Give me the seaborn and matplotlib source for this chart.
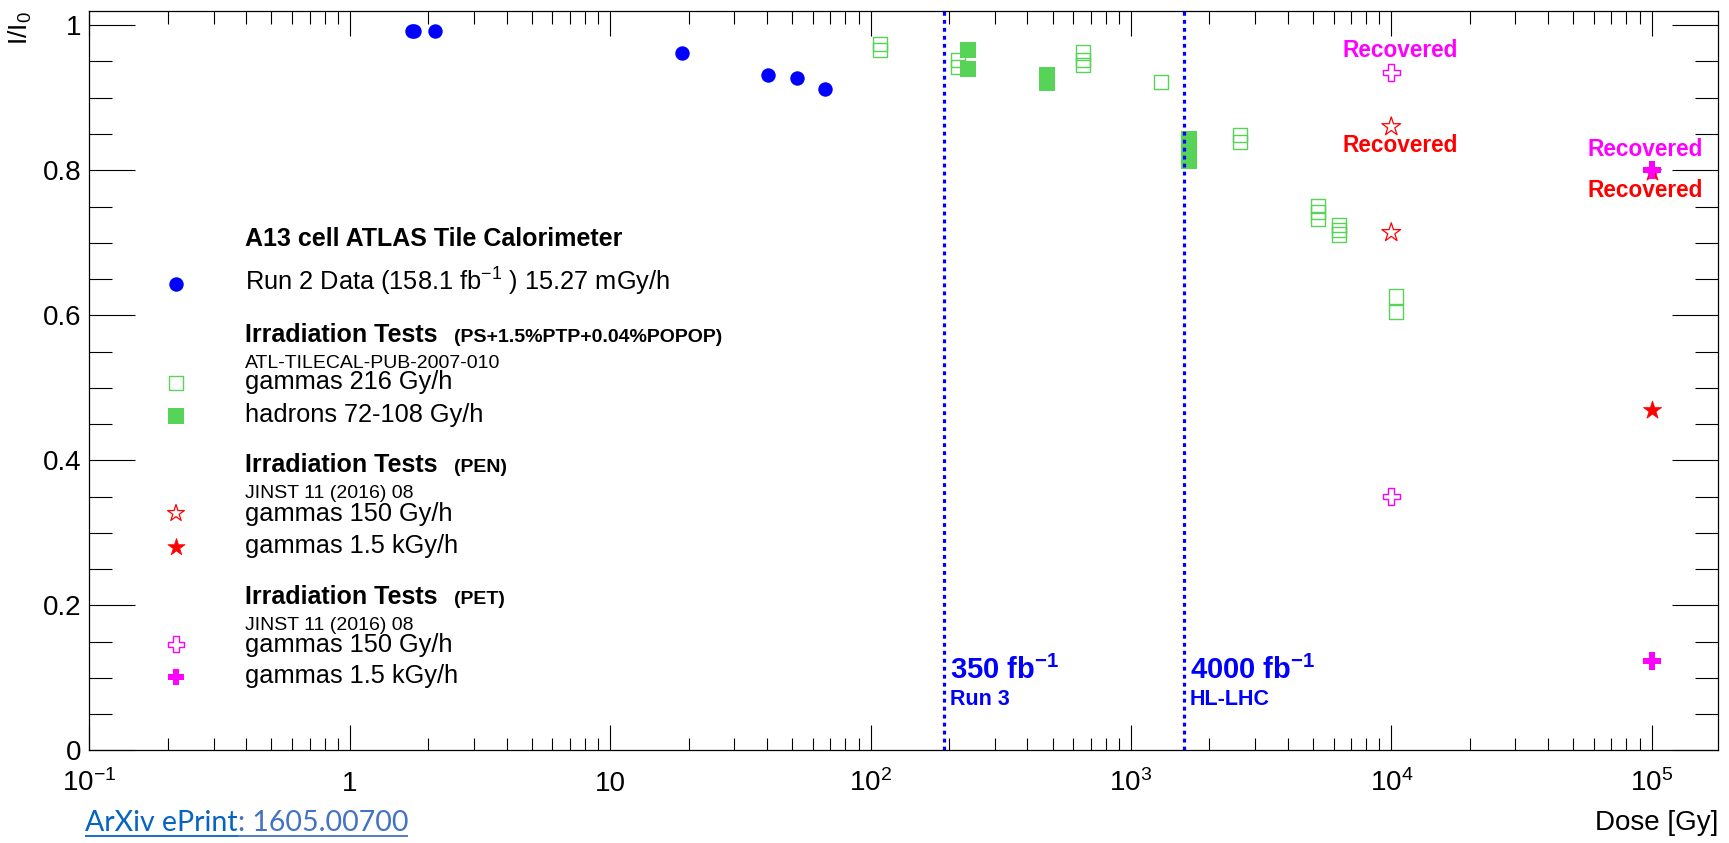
import numpy as np
import matplotlib
matplotlib.use("Agg")
import matplotlib.pyplot as plt
import seaborn as sns
from matplotlib.ticker import FixedLocator, NullFormatter, MultipleLocator, LogLocator

# ---------------------------------------------------------------- data
run2_dose = [1.73, 1.77, 2.12, 18.9, 40.2, 52.2, 66.8]
run2_ratio = [0.992, 0.992, 0.992, 0.961, 0.932, 0.927, 0.912]

gam216_dose = [108.7, 108.7, 217, 217, 653, 653, 653, 1305, 2621, 2621,
               5236, 5236, 5236, 6281, 6281, 6281, 10450, 10450]
gam216_ratio = [0.9745, 0.9655, 0.952, 0.9425, 0.9624, 0.9517, 0.9453, 0.922,
                0.8487, 0.8394, 0.7502, 0.7420, 0.7333, 0.7250, 0.7180, 0.7115,
                0.6258, 0.6044]

had_dose = [237.5, 237.5, 474, 474, 1675, 1675, 1675]
had_ratio = [0.9662, 0.9397, 0.932, 0.920, 0.8436, 0.8284, 0.8123]

pen150_dose = [1e4, 1e4]
pen150_ratio = [0.860, 0.714]
pen1500_dose = [1e5, 1e5]
pen1500_ratio = [0.469, 0.798]
pet150_dose = [1e4, 1e4]
pet150_ratio = [0.935, 0.350]
pet1500_dose = [1e5, 1e5]
pet1500_ratio = [0.800, 0.123]

lumi_dose = [192, 1600]
lumi_labels = ["350 fb$^{\\mathbf{-1}}$", "4000 fb$^{\\mathbf{-1}}$"]
lumi_periods = ["Run 3", "HL-LHC"]

recovered_x = [1.08e4, 1.08e4, 9.48e4, 9.48e4]
recovered_y = [0.9555, 0.8254, 0.8194, 0.7625]
recovered_color = ["#FF00FF", "#FF0000", "#FF00FF", "#FF0000"]

x_ticks = [0.1, 1, 10, 100, 1e3, 1e4, 1e5]
x_ticklabels = ["$10^{-1}$", "1", "10", "$10^{2}$", "$10^{3}$", "$10^{4}$", "$10^{5}$"]
y_ticks = [0, 0.2, 0.4, 0.6, 0.8, 1.0]
y_ticklabels = ["0", "0.2", "0.4", "0.6", "0.8", "1"]

BLUE = "#0000FF"
GREEN = "#57D357"
RED = "#FF0000"
MAGENTA = "#FF00FF"

# ---------------------------------------------------------------- style
sns.set_theme(style="white")
plt.rcParams.update({
    "font.family": ["Liberation Sans", "DejaVu Sans"],
    "mathtext.fontset": "custom",
    "mathtext.rm": "Liberation Sans",
    "mathtext.it": "Liberation Sans:italic",
    "mathtext.bf": "Liberation Sans:bold",
    "axes.edgecolor": "black",
    "axes.linewidth": 0.9,
    "xtick.color": "black",
    "ytick.color": "black",
    "axes.labelcolor": "black",
    "text.color": "black",
})

fig = plt.figure(figsize=(17.29, 8.43), dpi=100)
ax = fig.add_axes([0.05176, 0.10973, 0.94204, 0.87758])

# ---------------------------------------------------------------- markers
sns.scatterplot(x=gam216_dose, y=gam216_ratio, ax=ax, marker="s", s=105,
                facecolors="none", edgecolor=GREEN, linewidth=1.0, zorder=4)
sns.scatterplot(x=had_dose, y=had_ratio, ax=ax, marker="s", s=118,
                color=GREEN, edgecolor=GREEN, linewidth=0, zorder=4)
sns.scatterplot(x=run2_dose, y=run2_ratio, ax=ax, marker="o", s=108,
                color=BLUE, edgecolor=BLUE, linewidth=0, zorder=5)
sns.scatterplot(x=pen150_dose, y=pen150_ratio, ax=ax, marker="*", s=200,
                facecolors="none", edgecolor=RED, linewidth=0.9, zorder=5)
sns.scatterplot(x=pet150_dose, y=pet150_ratio, ax=ax, marker="P", s=150,
                facecolors="none", edgecolor=MAGENTA, linewidth=1.0, zorder=5)
sns.scatterplot(x=pen1500_dose, y=pen1500_ratio, ax=ax, marker="*", s=190,
                color=RED, edgecolor=RED, linewidth=0.5, zorder=5)
sns.scatterplot(x=pet1500_dose, y=pet1500_ratio, ax=ax, marker="P", s=150,
                color=MAGENTA, edgecolor=MAGENTA, linewidth=0, zorder=6)

for xr, yr, cr in zip(recovered_x, recovered_y, recovered_color):
    ax.text(xr, yr, "Recovered", color=cr, fontsize=16.3, fontweight="bold",
            ha="center", va="baseline", zorder=7)

# luminosity milestones
for d, lab, per in zip(lumi_dose, lumi_labels, lumi_periods):
    ax.axvline(d, color=BLUE, lw=2.3, ls=(0, (1.2, 1.3)), zorder=6)
    ax.annotate(lab, xy=(d, 0.0986), xytext=(6, 0), textcoords="offset pixels",
                color=BLUE, fontsize=21, fontweight="bold", ha="left", va="baseline")
    ax.annotate(per, xy=(d, 0.0627), xytext=(6, 0), textcoords="offset pixels",
                color=BLUE, fontsize=15.5, fontweight="bold", ha="left", va="baseline")

# ---------------------------------------------------------------- axes
ax.set_xscale("log")
ax.set_xlim(0.1, 1.803e5)
ax.set_ylim(0, 1.02)

ax.xaxis.set_major_locator(FixedLocator(x_ticks))
ax.set_xticklabels(x_ticklabels)
ax.xaxis.set_minor_locator(LogLocator(base=10, subs=np.arange(2, 10), numticks=30))
ax.xaxis.set_minor_formatter(NullFormatter())
ax.set_yticks(y_ticks)
ax.set_yticklabels(y_ticklabels)
ax.yaxis.set_minor_locator(MultipleLocator(0.05))

ax.tick_params(axis="x", which="major", direction="in", length=18, width=0.8,
               top=True, bottom=True, labelsize=20, pad=29)
ax.tick_params(axis="x", which="minor", direction="in", length=9, width=0.8,
               top=True, bottom=True)
ax.tick_params(axis="y", which="major", direction="in", length=32.8, width=0.8,
               left=True, right=True, labelsize=20, pad=6)
ax.tick_params(axis="y", which="minor", direction="in", length=16.3, width=0.8,
               left=True, right=True)
for lbl in ax.get_xticklabels():
    lbl.set_verticalalignment("baseline")

for sp in ax.spines.values():
    sp.set_visible(True)
    sp.set_color("black")

ax.set_xlabel("Dose [Gy]", fontsize=20, loc="right")
ax.xaxis.set_label_coords(1.0, -0.0804)
ax.set_ylabel("I/I$_0$", fontsize=19, loc="top")
ax.yaxis.set_label_coords(-0.0341, 1.0)

# ---------------------------------------------------------------- legend panel (pixel coordinates)
lg = fig.add_axes([0, 0, 1, 1], zorder=10)
lg.set_xlim(0, 1729)
lg.set_ylim(843, 0)
lg.axis("off")
lg.patch.set_visible(False)

KX, TX, SX = 176, 245, 454

def head(y, main, extra=None):
    lg.text(TX, y, main, fontsize=18, fontweight="bold", va="baseline")
    if extra:
        lg.text(SX, y, extra, fontsize=14, fontweight="bold", va="baseline")

def entry(y, text, size=18.3):
    lg.text(TX, y, text, fontsize=size, va="baseline")

head(245.7, "A13 cell ATLAS Tile Calorimeter")
entry(290.7, "Run 2 Data (158.1 fb$^{-1}$ ) 15.27 mGy/h")
lg.scatter([KX], [284], marker="o", s=108, color=BLUE, linewidths=0)

head(341.7, "Irradiation Tests", "(PS+1.5%PTP+0.04%POPOP)")
entry(367.7, "ATL-TILECAL-PUB-2007-010", 14)
entry(389.5, "gammas 216 Gy/h")
lg.scatter([KX], [383.3], marker="s", s=105, facecolors="none", edgecolors=GREEN, linewidths=1.0)
entry(421.7, "hadrons 72-108 Gy/h")
lg.scatter([KX], [415.7], marker="s", s=118, color=GREEN, linewidths=0)

head(471.7, "Irradiation Tests", "(PEN)")
entry(498.3, "JINST 11 (2016) 08", 14)
entry(520.5, "gammas 150 Gy/h")
lg.scatter([KX], [513.3], marker="*", s=160, facecolors="none", edgecolors=RED, linewidths=0.9)
entry(552.7, "gammas 1.5 kGy/h")
lg.scatter([KX], [546.7], marker="*", s=170, color=RED, edgecolors=RED, linewidths=0.5)

head(604, "Irradiation Tests", "(PET)")
entry(630, "JINST 11 (2016) 08", 14)
entry(651.7, "gammas 150 Gy/h")
lg.scatter([KX], [644.3], marker="P", s=130, facecolors="none", edgecolors=MAGENTA, linewidths=1.0)
entry(683.3, "gammas 1.5 kGy/h")
lg.scatter([KX], [676.7], marker="P", s=130, color=MAGENTA, linewidths=0)

# reference link under the axis
renderer = fig.canvas.get_renderer()
t1 = lg.text(85, 830.7, "ArXiv ePrint", fontfamily="Lato", fontsize=20.5,
             color="#0563C1", va="baseline")
x1 = t1.get_window_extent(renderer).x1
t2 = lg.text(x1, 830.7, ": 1605.00700", fontfamily="Lato", fontsize=20.5,
             color="#4472C4", va="baseline")
x2 = t2.get_window_extent(renderer).x1
lg.plot([85, x1], [835.5, 835.5], color="#0563C1", lw=1.3, solid_capstyle="butt")
lg.plot([x1, x2], [835.5, 835.5], color="#4472C4", lw=1.3, solid_capstyle="butt")

fig.savefig("out.png", dpi=100, facecolor="white")
